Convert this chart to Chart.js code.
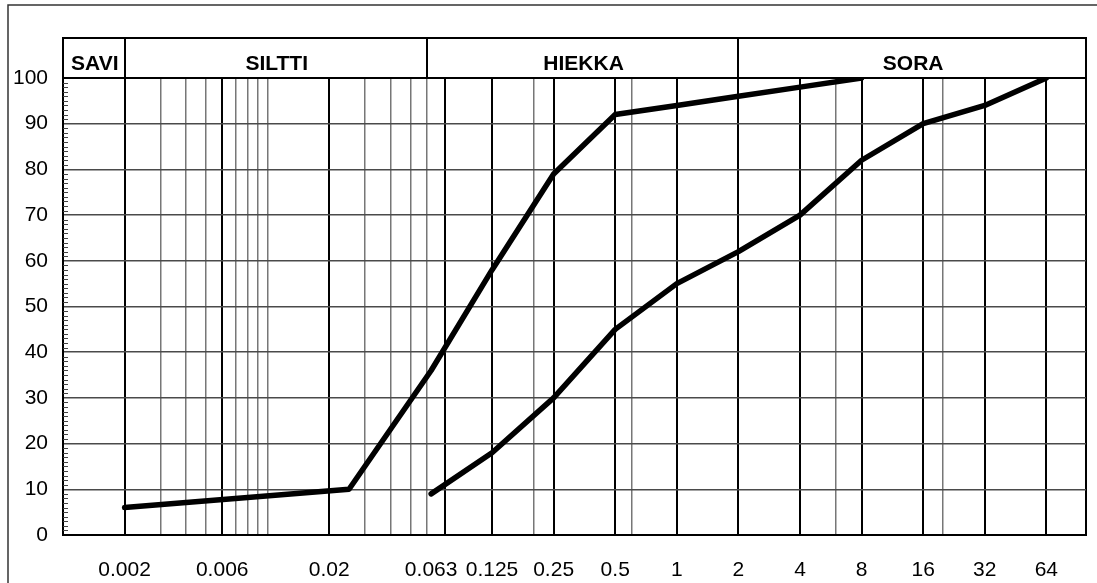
<!DOCTYPE html>
<html>
<head>
<meta charset="utf-8">
<script src="https://cdn.jsdelivr.net/npm/chart.js@4.4.1/dist/chart.umd.min.js"></script>
<style>
  html, body { margin: 0; padding: 0; background: #fff; }
  #wrap { width: 1097px; height: 583px; position: relative; }
</style>
</head>
<body>
<div id="wrap"><canvas id="chart"></canvas></div>
<script>
// grain size (mm) and percent passing
const fineSizes = [0.002, 0.025, 0.063, 0.125, 0.25, 0.5, 1, 2, 4, 8];
const finePassing = [6, 10, 36, 58, 79, 92, 94, 96, 98, 100];
const coarseSizes = [0.063, 0.125, 0.25, 0.5, 1, 2, 4, 8, 16, 32, 64];
const coarsePassing = [9, 18, 30, 45, 55, 62, 70, 82, 90, 94, 100];

// axis labels
const labelSizes = [0.002, 0.006, 0.02, 0.063, 0.125, 0.25, 0.5, 1, 2, 4, 8, 16, 32, 64];
const labelTexts = ['0.002', '0.006', '0.02', '0.063', '0.125', '0.25', '0.5', '1', '2', '4', '8', '16', '32', '64'];
// heavy and light vertical grid lines
const majorSizes = [0.002, 0.006, 0.02, 0.074, 0.125, 0.25, 0.5, 1, 2, 4, 8, 16, 32, 64, 100];
const minorSizes = [0.003, 0.004, 0.005, 0.007, 0.008, 0.009, 0.01, 0.03, 0.04, 0.05, 0.06, 0.2, 0.6, 6, 20];

// soil classes on top band
const classNames = ['SAVI', 'SILTTI', 'HIEKKA', 'SORA'];
const classBounds = [0.001, 0.002, 0.06, 2, 100];

const yTicks = [0, 10, 20, 30, 40, 50, 60, 70, 80, 90, 100];

const FONT = '"Liberation Sans", Arial, sans-serif';

const toXY = (xs, ys) => xs.map((x, i) => ({ x: x, y: ys[i] }));

const headerPlugin = {
  id: 'header',
  afterDraw(chart) {
    const ctx = chart.ctx;
    const area = chart.chartArea;
    const xs = chart.scales.x;
    const ys = chart.scales.y;
    const top = 38;
    ctx.save();

    // small ticks on the y axis
    ctx.strokeStyle = '#444';
    ctx.lineWidth = 1;
    for (let v = 1; v < 100; v++) {
      if (v % 10 === 0) continue;
      const py = Math.round(ys.getPixelForValue(v)) + 0.5;
      ctx.beginPath();
      ctx.moveTo(area.left, py);
      ctx.lineTo(area.left + 5, py);
      ctx.stroke();
    }

    // class band
    ctx.strokeStyle = '#000';
    ctx.lineWidth = 2;
    ctx.strokeRect(area.left, top, area.right - area.left, area.top - top);
    for (let i = 1; i < classBounds.length - 1; i++) {
      const px = Math.round(xs.getPixelForValue(classBounds[i]));
      ctx.beginPath();
      ctx.moveTo(px, top);
      ctx.lineTo(px, area.top);
      ctx.stroke();
    }
    ctx.fillStyle = '#000';
    ctx.font = 'bold 21px ' + FONT;
    ctx.textAlign = 'center';
    ctx.textBaseline = 'middle';
    for (let i = 0; i < classNames.length; i++) {
      const a = xs.getPixelForValue(classBounds[i]);
      const b = xs.getPixelForValue(classBounds[i + 1]);
      ctx.fillText(classNames[i], (a + b) / 2 + 1, 64);
    }

    // outer frame
    ctx.strokeStyle = '#333';
    ctx.lineWidth = 1.5;
    ctx.strokeRect(8, 5, 1200, 700);
    ctx.restore();
  }
};

new Chart(document.getElementById('chart'), {
  type: 'line',
  data: {
    datasets: [{
      data: toXY(fineSizes, finePassing),
      borderColor: '#000',
      borderWidth: 5.5,
      borderCapStyle: 'round',
      borderJoinStyle: 'round',
      pointRadius: 0,
      tension: 0
    }, {
      data: toXY(coarseSizes, coarsePassing),
      borderColor: '#000',
      borderWidth: 5.5,
      borderCapStyle: 'round',
      borderJoinStyle: 'round',
      pointRadius: 0,
      tension: 0
    }]
  },
  options: {
    responsive: true,
    maintainAspectRatio: false,
    animation: false,
    layout: { padding: { top: 78, right: 11, left: 0, bottom: 0 } },
    plugins: {
      legend: { display: false },
      tooltip: { enabled: false }
    },
    scales: {
      x: {
        type: 'logarithmic',
        min: 0.001,
        max: 100,
        afterBuildTicks: (scale) => {
          const t = [];
          majorSizes.forEach(v => t.push({ value: v, lbl: '', kind: 'major' }));
          minorSizes.forEach(v => t.push({ value: v, lbl: '', kind: 'minor' }));
          labelSizes.forEach((v, i) => {
            const hit = t.find(k => k.value === v);
            if (hit) hit.lbl = labelTexts[i];
            else t.push({ value: v, lbl: labelTexts[i], kind: 'none' });
          });
          t.sort((a, b) => a.value - b.value);
          scale.ticks = t;
        },
        afterFit: (scale) => {
          scale.height = 48;
          scale.paddingLeft = 0;
          scale.paddingRight = 0;
        },
        ticks: {
          autoSkip: false,
          maxRotation: 0,
          minRotation: 0,
          padding: 23,
          color: '#000',
          font: { family: FONT, size: 21 },
          callback: (v, i, ticks) => ticks[i].lbl
        },
        grid: {
          drawTicks: false,
          color: (c) => {
            const k = c.tick && c.tick.kind;
            if (k === 'major') return '#000';
            if (k === 'minor') return '#777';
            return 'rgba(0,0,0,0)';
          },
          lineWidth: (c) => (c.tick && c.tick.kind === 'major') ? 2 : 1.5
        },
        border: { display: true, color: '#000', width: 2 }
      },
      y: {
        min: 0,
        max: 100,
        afterBuildTicks: (scale) => {
          scale.ticks = yTicks.map(v => ({ value: v }));
        },
        afterFit: (scale) => { scale.width = 63; },
        ticks: {
          padding: 15,
          color: '#000',
          font: { family: FONT, size: 21 }
        },
        grid: {
          drawTicks: false,
          color: (c) => (c.tick && (c.tick.value === 0 || c.tick.value === 100)) ? '#000' : '#4a4a4a',
          lineWidth: (c) => (c.tick && (c.tick.value === 0 || c.tick.value === 100)) ? 2 : 1.5
        },
        border: { display: true, color: '#000', width: 2 }
      }
    }
  },
  plugins: [headerPlugin]
});
</script>
</body>
</html>
